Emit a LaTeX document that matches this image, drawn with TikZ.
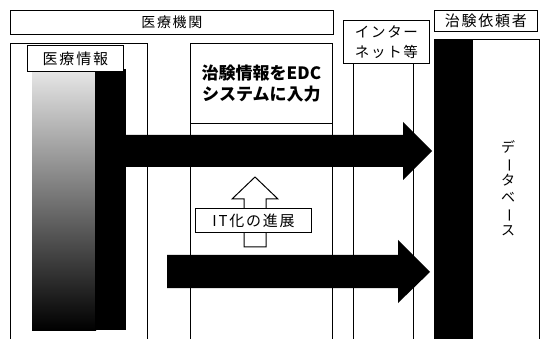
\documentclass[tikz,border=0pt]{standalone}
\usepackage{fontspec}
\newfontfamily\jp{Noto Sans CJK JP}
\newfontfamily\jpsp[LetterSpace=12]{Noto Sans CJK JP}
\begin{document}
\begin{tikzpicture}[x=1pt,y=-1pt,line width=0.8pt,
  box/.style={draw=black,fill=white,inner sep=0pt,anchor=north west},
  frame/.style={draw=black,inner sep=0pt,anchor=north west},
  bigarrow/.style={fill=black,draw=none},
  ]
\useasboundingbox[fill=white] (0,0) rectangle (541,339);
\clip (0,0) rectangle (541,339);

% left panel (medical institution)
\node[frame,minimum width=137pt,minimum height=310pt] (leftp) at (10,43) {};
% gradient of medical information
\shade[top color=black!10,middle color=black!82,bottom color=black] (32,71) rectangle (96,330);
\fill[black] (95,69) rectangle (126,330);
\node[box,minimum width=96pt,minimum height=26pt,font=\jpsp\fontsize{15pt}{17pt}\selectfont] (info) at (27,45) {医療情報};

% middle panel
\node[frame,minimum width=142pt,minimum height=310pt] (midp) at (190,43) {};
\node[frame,minimum width=142pt,minimum height=80pt,align=center,
      font=\jp\bfseries\fontsize{17pt}{21pt}\selectfont] (edc) at (190,43) {治験情報をEDC\\システムに入力};

% header
\node[box,minimum width=323pt,minimum height=24pt,font=\jpsp\fontsize{14pt}{16pt}\selectfont] (kikan) at (10,10) {医療機関};
\draw[line width=1.3pt] (kikan.south west) -- (kikan.south east);

% internet
\node[box,minimum width=86pt,minimum height=43pt,align=center,
      font=\jpsp\fontsize{14.5pt}{20pt}\selectfont] (net) at (343,20) {インター\\ネット等};
\coordinate (netl) at (353,345);
\coordinate (netr) at (413,345);
\draw (net.south west -| netl) -- (netl);
\draw (net.south west -| netr) -- (netr);

% sponsor / database
\node[frame,minimum width=105pt,minimum height=310pt] (db) at (434,39) {};
\fill[black] (434,39) rectangle (473,345);
\node[font=\jp\fontsize{14pt}{16.5pt}\selectfont,align=center,inner sep=0pt] (dbtext) at (508,188)
  {デ\\\rotatebox[origin=c]{-90}{ー}\\タ\\ベ\\\rotatebox[origin=c]{-90}{ー}\\ス};
\node[box,minimum width=103pt,minimum height=21pt,font=\jpsp\fontsize{15pt}{17pt}\selectfont] (sponsor) at (434,10) {治験依頼者};
\draw[line width=1.3pt] (sponsor.south west) -- (sponsor.south east);

% big arrows
\fill[bigarrow] (126,135) -- (403,135) -- (403,122) -- (432,151) -- (403,180) -- (403,167) -- (126,167) -- cycle;
\fill[bigarrow] (167,255) -- (398,255) -- (398,240) -- (430,272) -- (398,303) -- (398,288) -- (167,288) -- cycle;

% IT progress arrow
\draw[fill=white,line width=1pt] (255,177) -- (278,199) -- (266,199) -- (266,247) -- (244,247) -- (244,199) -- (232,199) -- cycle;
\node[box,minimum width=116pt,minimum height=24pt,font=\jpsp\fontsize{15pt}{17pt}\selectfont,line width=1pt] (it) at (195,208) {IT化の進展};
\end{tikzpicture}
\end{document}
